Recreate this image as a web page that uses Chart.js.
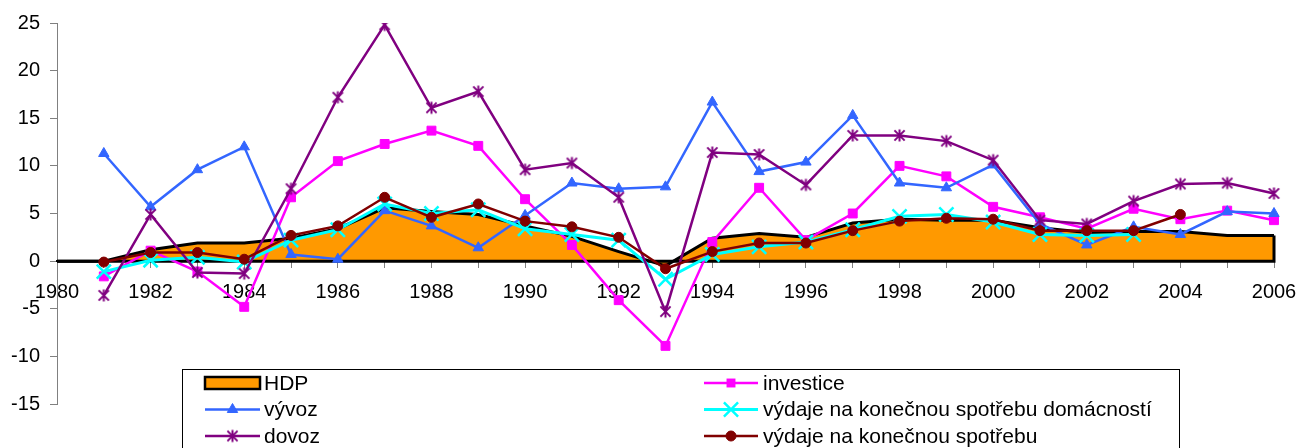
<!DOCTYPE html>
<html>
<head>
<meta charset="utf-8">
<script src="https://cdn.jsdelivr.net/npm/chart.js@4/dist/chart.umd.min.js"></script>
<style>
  html, body { margin: 0; padding: 0; background: #fff; }
  #wrap { width: 1300px; height: 448px; }
</style>
</head>
<body>
<div id="wrap"><canvas id="myChart" width="1300" height="448"></canvas></div>
<script>
const years = ['1980', '1981', '1982', '1983', '1984', '1985', '1986', '1987', '1988', '1989',
  '1990', '1991', '1992', '1993', '1994', '1995', '1996', '1997', '1998', '1999',
  '2000', '2001', '2002', '2003', '2004', '2005', '2006'];

const hdp = [0, 0, 1.2, 1.9, 1.9, 2.4, 3.4, 5.6, 5.2, 4.9, 3.7, 2.6, 1.0, -0.5, 2.4, 2.9, 2.5, 4.0, 4.4, 4.3, 4.3, 3.5, 3.0, 3.1, 3.1, 2.7, 2.7];
const investice = [null, -1.6, 1.1, -1.1, -4.8, 6.7, 10.5, 12.3, 13.7, 12.1, 6.5, 1.7, -4.1, -8.9, 2.0, 7.7, 2.2, 5.0, 10.0, 8.9, 5.7, 4.6, 3.4, 5.5, 4.4, 5.3, 4.3];
const vyvoz = [null, 11.3, 5.7, 9.6, 12.0, 0.7, 0.2, 5.3, 3.7, 1.4, 4.8, 8.2, 7.6, 7.8, 16.7, 9.4, 10.4, 15.3, 8.2, 7.7, 10.1, 3.9, 1.7, 3.6, 2.8, 5.2, 5.0];
const domacnosti = [null, -1.1, 0.1, 0.4, -0.1, 2.2, 3.3, 6.0, 5.0, 5.4, 3.4, 2.8, 2.2, -1.9, 0.7, 1.5, 2.0, 3.3, 4.7, 4.9, 4.1, 2.8, 2.7, 2.8, null, null, null];
const dovoz = [null, -3.6, 4.9, -1.2, -1.3, 7.6, 17.2, 24.8, 16.1, 17.8, 9.6, 10.3, 6.7, -5.3, 11.4, 11.2, 8.0, 13.2, 13.2, 12.6, 10.6, 4.3, 3.9, 6.3, 8.1, 8.2, 7.1];
const spotreba = [null, -0.1, 0.9, 0.9, 0.2, 2.7, 3.7, 6.7, 4.6, 6.0, 4.2, 3.6, 2.5, -0.8, 1.0, 1.9, 1.9, 3.2, 4.2, 4.5, 4.4, 3.2, 3.2, 3.2, 4.9, null, null];

const yTicks = [-15, -10, -5, 0, 5, 10, 15, 20, 25];

const FONT = "'Liberation Sans', Arial, sans-serif";

// asterisk marker (X plus vertical bar)
function makeStar(color, size) {
  const c = document.createElement('canvas');
  c.width = size; c.height = size;
  const g = c.getContext('2d');
  g.strokeStyle = color;
  g.lineWidth = 2;
  const m = size / 2, r = size / 2 - 1.5;
  g.beginPath();
  g.moveTo(m, m - r); g.lineTo(m, m + r);
  g.moveTo(m - r * 0.85, m - r * 0.85); g.lineTo(m + r * 0.85, m + r * 0.85);
  g.moveTo(m + r * 0.85, m - r * 0.85); g.lineTo(m - r * 0.85, m + r * 0.85);
  g.stroke();
  return c;
}
const star = makeStar('#800080', 15);

function lineSet(label, data, color, style, radius, order, extra) {
  return Object.assign({
    label: label,
    data: data,
    borderColor: color,
    backgroundColor: color,
    borderWidth: 2.5,
    pointStyle: style,
    pointRadius: radius,
    pointBackgroundColor: color,
    pointBorderColor: color,
    pointBorderWidth: 1,
    fill: false,
    tension: 0,
    order: order,
    spanGaps: false
  }, extra || {});
}

const datasets = [
  {
    label: 'HDP',
    data: hdp,
    borderColor: '#000000',
    backgroundColor: '#FF9900',
    borderWidth: 3,
    pointRadius: 0,
    fill: 'origin',
    tension: 0,
    order: 10
  },
  lineSet('investice', investice, '#FF00FF', 'rect', 6.3, 6),
  lineSet('vývoz', vyvoz, '#3366FF', 'triangle', 6, 5),
  lineSet('výdaje na konečnou spotřebu domácností', domacnosti, '#00FFFF', 'crossRot', 10, 4, { borderWidth: 3, pointBorderWidth: 2.5 }),
  lineSet('dovoz', dovoz, '#800080', star, 7, 3),
  lineSet('výdaje na konečnou spotřebu', spotreba, '#800000', 'circle', 5, 2)
];

// closes the HDP area outline (baseline + right edge)
const areaEdge = {
  id: 'areaEdge',
  afterDatasetDraw(chart, args) {
    if (args.index !== 0) return;
    const ctx = chart.ctx;
    const x = chart.scales.x, y = chart.scales.y;
    const y0 = y.getPixelForValue(0);
    const last = hdp.length - 1;
    ctx.save();
    ctx.strokeStyle = '#000';
    ctx.lineWidth = 3;
    ctx.beginPath();
    ctx.moveTo(x.getPixelForValue(0), y0);
    ctx.lineTo(x.getPixelForValue(last), y0);
    ctx.lineTo(x.getPixelForValue(last), y.getPixelForValue(hdp[last]));
    ctx.stroke();
    ctx.restore();
  }
};

function drawMarker(ctx, ds, x, y) {
  const st = ds.pointStyle;
  const r = ds.pointRadius;
  ctx.save();
  ctx.fillStyle = ds.pointBackgroundColor;
  ctx.strokeStyle = ds.pointBorderColor;
  ctx.lineWidth = ds.pointBorderWidth;
  if (st instanceof HTMLCanvasElement) {
    ctx.drawImage(st, x - st.width / 2, y - st.height / 2);
  } else if (st === 'rect') {
    const s = r * Math.SQRT1_2;
    ctx.fillRect(x - s, y - s, 2 * s, 2 * s);
  } else if (st === 'triangle') {
    ctx.beginPath();
    for (let k = 0; k < 3; k++) {
      const a = k * 2 * Math.PI / 3;
      const px = x + Math.sin(a) * r, py = y - Math.cos(a) * r;
      if (k === 0) ctx.moveTo(px, py); else ctx.lineTo(px, py);
    }
    ctx.closePath(); ctx.fill(); ctx.stroke();
  } else if (st === 'crossRot') {
    const s = r * Math.SQRT1_2;
    ctx.beginPath();
    ctx.moveTo(x - s, y - s); ctx.lineTo(x + s, y + s);
    ctx.moveTo(x + s, y - s); ctx.lineTo(x - s, y + s);
    ctx.stroke();
  } else {
    ctx.beginPath();
    ctx.arc(x, y, r, 0, Math.PI * 2);
    ctx.fill(); ctx.stroke();
  }
  ctx.restore();
}

// boxed legend in two columns, drawn over the lower part of the plot
const boxLegend = {
  id: 'boxLegend',
  afterDraw(chart) {
    const ctx = chart.ctx;
    const ds = chart.data.datasets;
    ctx.save();
    ctx.fillStyle = '#fff';
    ctx.fillRect(182, 369, 997, 100);
    ctx.strokeStyle = '#000';
    ctx.lineWidth = 1;
    ctx.strokeRect(182.5, 369.5, 997, 100);
    const rows = [383, 409.5, 436];
    const cols = [{ x0: 205, x1: 260, tx: 264 }, { x0: 704, x1: 758, tx: 763 }];
    ctx.font = '21px ' + FONT;
    ctx.textBaseline = 'middle';
    ds.forEach((d, i) => {
      const c = cols[i % 2], y = rows[Math.floor(i / 2)];
      if (i === 0) {
        ctx.fillStyle = d.backgroundColor;
        ctx.fillRect(c.x0, y - 6, c.x1 - c.x0, 12);
        ctx.strokeStyle = '#000';
        ctx.lineWidth = 2.5;
        ctx.strokeRect(c.x0, y - 6, c.x1 - c.x0, 12);
      } else {
        ctx.strokeStyle = d.borderColor;
        ctx.lineWidth = d.borderWidth;
        ctx.beginPath();
        ctx.moveTo(c.x0, y); ctx.lineTo(c.x1, y);
        ctx.stroke();
        drawMarker(ctx, d, (c.x0 + c.x1) / 2, y);
      }
      ctx.fillStyle = '#000';
      ctx.textAlign = 'left';
      ctx.fillText(d.label, c.tx, y + 1);
    });
    ctx.restore();
  }
};

const ctx = document.getElementById('myChart');

new Chart(ctx, {
  type: 'line',
  data: {
    labels: years,
    datasets: datasets
  },
  plugins: [areaEdge, boxLegend],
  options: {
    responsive: false,
    animation: false,
    devicePixelRatio: 1,
    layout: { padding: { top: 23, right: 26, bottom: 44, left: 0 } },
    plugins: {
      legend: { display: false },
      tooltip: { enabled: false }
    },
    scales: {
      x: {
        type: 'category',
        position: { y: 0 },
        offset: false,
        afterFit: s => { s.paddingLeft = 0; s.paddingRight = 0; },
        grid: { drawOnChartArea: false, drawTicks: true, tickLength: 6, color: '#808080' },
        border: { color: '#000', width: 2 },
        ticks: {
          autoSkip: false,
          maxRotation: 0,
          padding: 13,
          color: '#000',
          font: { size: 20, family: FONT },
          callback: (v, i) => (i % 2 === 0 ? years[i] : '')
        }
      },
      y: {
        min: yTicks[0],
        max: yTicks[yTicks.length - 1],
        afterBuildTicks: s => { s.ticks = yTicks.map(v => ({ value: v })); },
        afterFit: s => { s.width = 57; },
        grid: { drawOnChartArea: false, drawTicks: true, tickLength: 7, color: '#808080' },
        border: { color: '#808080', width: 1 },
        ticks: {
          padding: 10,
          color: '#000',
          font: { size: 20, family: FONT }
        }
      }
    }
  }
});
</script>
</body>
</html>
